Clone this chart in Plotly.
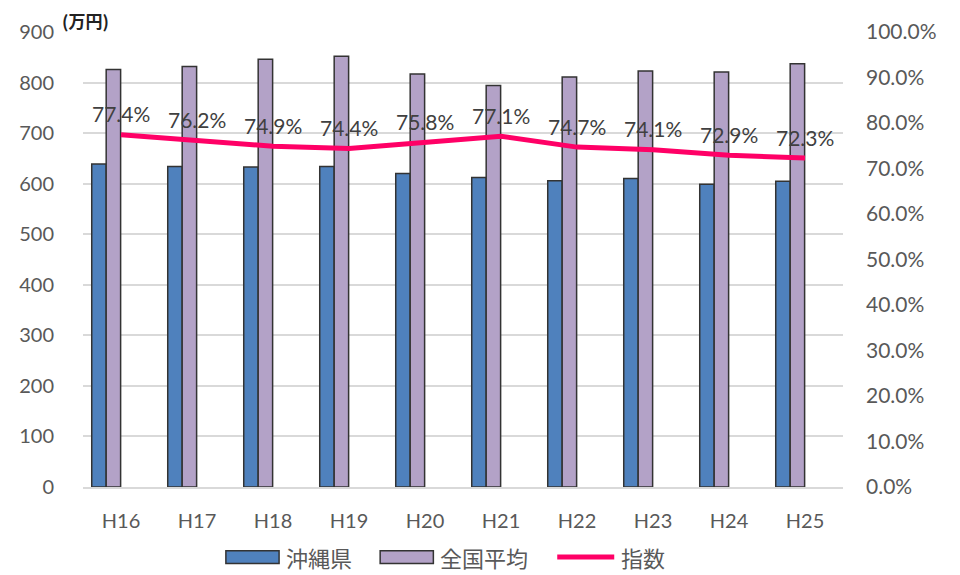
import plotly.graph_objects as go

categories = ["H16", "H17", "H18", "H19", "H20", "H21", "H22", "H23", "H24", "H25"]
okinawa = [639, 634, 633, 634, 620, 612, 606, 610, 599, 605]
national = [826, 832, 846, 852, 817, 794, 811, 823, 821, 837]
index_pct = [0.774, 0.762, 0.749, 0.744, 0.758, 0.771, 0.747, 0.741, 0.729, 0.723]
index_labels = ["77.4%", "76.2%", "74.9%", "74.4%", "75.8%", "77.1%", "74.7%", "74.1%", "72.9%", "72.3%"]
series_names = ["沖縄県", "全国平均", "指数"]

BLUE = "#4F81BD"
PURPLE = "#B3A2C7"
PINK = "#FF0066"
EDGE = "#333333"
TXT = "#595959"
FONT = "Lato, 'Noto Sans CJK JP', sans-serif"
JP = "'Noto Sans CJK JP', sans-serif"

fig = go.Figure()
fig.add_trace(go.Bar(x=categories, y=okinawa, name=series_names[0], marker=dict(color=BLUE, line=dict(color=EDGE, width=1.5)),
                     width=0.19, offset=-0.385, showlegend=False))
fig.add_trace(go.Bar(x=categories, y=national, name=series_names[1], marker=dict(color=PURPLE, line=dict(color=EDGE, width=1.5)),
                     width=0.19, offset=-0.195, showlegend=False))
fig.add_trace(go.Scatter(x=categories, y=index_pct, name=series_names[2], yaxis="y2", mode="lines",
                         line=dict(color=PINK, width=5), showlegend=False, cliponaxis=False))

for c, v, t in zip(categories, index_pct, index_labels):
    fig.add_annotation(x=c, y=v, xref="x", yref="y2", text=t, showarrow=False, yshift=21,
                       font=dict(size=21, color="#404040", family=FONT))

fig.update_layout(
    width=960, height=575,
    margin=dict(l=83, r=117, t=32, b=88),
    plot_bgcolor="white", paper_bgcolor="white",
    barmode="overlay",
    font=dict(family=FONT, color=TXT, size=20),
    xaxis=dict(type="category", showgrid=False, showline=True, linecolor="#D9D9D9", linewidth=1.5, automargin=False,
               ticks="", ticklabelstandoff=15, tickfont=dict(size=20, color=TXT)),
    yaxis=dict(range=[0, 900], dtick=100, showgrid=True, gridcolor="#D9D9D9", gridwidth=1.5, automargin=False,
               zeroline=False, showline=False, ticks="", ticklabelstandoff=28, tickfont=dict(size=20, color=TXT)),
    yaxis2=dict(range=[0, 1], dtick=0.1, tickformat=".1%", overlaying="y", side="right", showgrid=False, automargin=False,
                zeroline=False, showline=False, ticks="", ticklabelstandoff=22, tickfont=dict(size=21, color=TXT)),
)

fig.add_annotation(text="<b>(万円)</b>", xref="paper", yref="paper", x=-0.03, y=1.0, xanchor="left", yanchor="bottom",
                   yshift=-3, showarrow=False, font=dict(size=17, color="#222222", family=JP))

# custom legend
legend_y = -0.154
items = [
    (0.188, 0.258, "bar", BLUE, series_names[0]),
    (0.391, 0.461, "bar", PURPLE, series_names[1]),
    (0.624, 0.699, "line", PINK, series_names[2]),
]
for x0, x1, kind, color, label in items:
    if kind == "bar":
        fig.add_shape(type="rect", xref="paper", yref="paper", x0=x0, x1=x1, y0=legend_y - 0.014, y1=legend_y + 0.014,
                      fillcolor=color, line=dict(color=EDGE, width=1.5))
    else:
        fig.add_shape(type="line", xref="paper", yref="paper", x0=x0, x1=x1, y0=legend_y, y1=legend_y,
                      line=dict(color=color, width=5))
    fig.add_annotation(text=label, xref="paper", yref="paper", x=x1 + 0.006, y=legend_y, xanchor="left", yanchor="middle",
                       showarrow=False, font=dict(size=22, color=TXT, family=JP))

fig.write_html("out.html", config={"displayModeBar": False},
               post_script="document.body.style.margin='0';document.body.style.overflow='hidden';")
